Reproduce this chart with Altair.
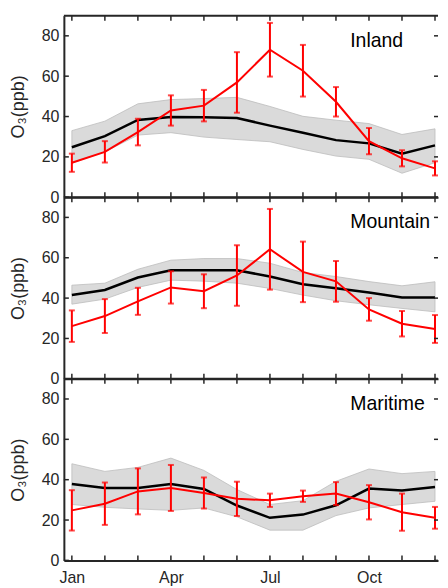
import altair as alt
import pandas as pd

# ---------------- data ----------------
months = list(range(1, 13))
month_names = ["Jan", "Feb", "Mar", "Apr", "May", "Jun", "Jul", "Aug", "Sep", "Oct", "Nov", "Dec"]
label_months = [1, 4, 7, 10]
y_ticks = [0, 20, 40, 60, 80]

inland_model = [24.8, 30.3, 38.3, 39.8, 39.7, 39.3, 35.5, 32.0, 28.3, 26.7, 21.6, 25.7]
inland_hi = [33.0, 37.7, 46.3, 48.4, 48.9, 49.5, 45.0, 40.1, 38.2, 36.5, 31.1, 33.9]
inland_lo = [17.0, 22.5, 30.8, 32.0, 29.8, 28.6, 27.5, 23.7, 20.4, 18.8, 11.9, 17.1]
inland_obs = [17.1, 22.5, 32.3, 43.0, 45.4, 56.9, 73.1, 62.7, 47.3, 27.8, 19.3, 14.3]
inland_err = [4.5, 5.3, 6.6, 7.5, 7.8, 15.0, 13.3, 12.8, 7.3, 6.5, 4.0, 3.5]

mountain_model = [41.5, 44.0, 50.2, 53.8, 53.8, 53.8, 50.7, 46.9, 44.9, 42.8, 40.3, 40.3]
mountain_hi = [46.4, 47.4, 54.3, 58.8, 59.6, 59.6, 57.3, 52.7, 50.7, 48.2, 46.1, 48.1]
mountain_lo = [37.0, 39.5, 45.3, 48.9, 48.4, 47.4, 44.8, 41.5, 38.7, 36.7, 34.9, 33.2]
mountain_obs = [26.1, 31.1, 38.4, 45.3, 43.4, 51.2, 64.2, 53.0, 48.3, 34.4, 27.3, 24.7]
mountain_err = [7.8, 8.4, 6.7, 8.0, 8.4, 15.0, 20.0, 15.0, 10.1, 5.6, 6.3, 6.9]

maritime_model = [37.9, 35.9, 35.9, 37.9, 35.4, 27.2, 21.1, 22.7, 27.3, 35.6, 34.6, 36.4]
maritime_hi = [47.9, 44.1, 46.1, 50.7, 44.6, 35.1, 27.7, 29.6, 39.2, 45.3, 43.0, 44.1]
maritime_lo = [27.7, 26.3, 25.5, 24.8, 26.0, 21.6, 15.0, 15.0, 22.2, 26.0, 27.7, 29.3]
maritime_obs = [24.8, 28.1, 34.2, 35.9, 33.4, 30.5, 29.8, 31.8, 33.1, 28.8, 23.9, 21.1]
maritime_err = [10.0, 10.5, 11.4, 11.4, 7.7, 8.5, 3.3, 2.8, 5.7, 8.5, 9.2, 5.4]

# ---------------- style ----------------
W = 375
H = 182
FRAME = "#262626"
FONT = "Liberation Sans"

xscale = alt.Scale(domain=[0.758, 12.091], nice=False, zero=False)
yscale = alt.Scale(domain=[0, 90], nice=False, zero=False)
label_expr = "[" + ",".join("'%s'" % m for m in month_names) + "][datum.value - 1]"


def panel(name, model, lo, hi, obs, err, bottom):
    df = pd.DataFrame({
        "month": months,
        "model": model,
        "lo": lo,
        "hi": hi,
        "obs": obs,
        "elo": [o - e for o, e in zip(obs, err)],
        "ehi": [o + e for o, e in zip(obs, err)],
    })
    base = alt.Chart(df)
    xax = alt.Axis(values=label_months, labelExpr=label_expr, labels=bottom, ticks=False,
                   domain=True, domainColor=FRAME, domainWidth=2, grid=False,
                   title=None, labelFont=FONT, labelFontSize=16, labelColor=FRAME,
                   labelPadding=9)
    yax = alt.Axis(values=y_ticks, ticks=False, domain=True, domainColor=FRAME,
                   domainWidth=2, grid=False, title="O₃(ppb)", titleFont=FONT,
                   titleFontSize=18, titleFontWeight="normal", titleColor=FRAME,
                   titlePadding=14, labelFont=FONT, labelFontSize=16, labelColor=FRAME,
                   labelPadding=5)

    def X(f="month:Q"):
        return alt.X(f, scale=xscale, axis=xax)

    def Y(f):
        return alt.Y(f, scale=yscale, axis=yax)

    band = base.mark_area(fill="#dadada", stroke="#bdbdbd", strokeWidth=0.8).encode(
        x=X(), y=Y("lo:Q"), y2="hi:Q")
    model_line = base.mark_line(color="black", strokeWidth=2.5).encode(x=X(), y=Y("model:Q"))
    obs_line = base.mark_line(color="#ff0000", strokeWidth=2).encode(x=X(), y=Y("obs:Q"))
    ebar = base.mark_rule(color="#ff0000", strokeWidth=2).encode(
        x=X(), y=Y("elo:Q"), y2="ehi:Q")
    cap_lo = base.mark_tick(color="#ff0000", orient="horizontal", size=6, thickness=2).encode(
        x=X(), y=Y("elo:Q"))
    cap_hi = base.mark_tick(color="#ff0000", orient="horizontal", size=6, thickness=2).encode(
        x=X(), y=Y("ehi:Q"))

    xt = alt.Chart(pd.DataFrame({"month": months}))
    top_ticks = xt.mark_rule(color=FRAME, strokeWidth=1.5).encode(
        x=X(), y=alt.value(0), y2=alt.value(5))
    bot_ticks = xt.mark_rule(color=FRAME, strokeWidth=1.5).encode(
        x=X(), y=alt.value(H - 5), y2=alt.value(H))
    yt = alt.Chart(pd.DataFrame({"v": y_ticks}))
    left_ticks = yt.mark_rule(color=FRAME, strokeWidth=1.5).encode(
        y=Y("v:Q"), x=alt.value(0), x2=alt.value(5))
    right_ticks = yt.mark_rule(color=FRAME, strokeWidth=1.5).encode(
        y=Y("v:Q"), x=alt.value(W - 4), x2=alt.value(W))
    top_line = alt.Chart(pd.DataFrame({"a": [0]})).mark_rule(color=FRAME, strokeWidth=2).encode(
        x=alt.value(0), x2=alt.value(W), y=alt.value(0))
    label = alt.Chart(pd.DataFrame({"t": [name]})).mark_text(
        align="left", baseline="alphabetic", font=FONT, fontSize=19.5, color="black").encode(
        x=alt.value(287), y=alt.value(31), text="t:N")

    return alt.layer(band, model_line, obs_line, ebar, cap_lo, cap_hi,
                     top_ticks, bot_ticks, left_ticks, right_ticks, top_line, label
                     ).properties(width=W, height=H)


p1 = panel("Inland", inland_model, inland_lo, inland_hi, inland_obs, inland_err, False)
p2 = panel("Mountain", mountain_model, mountain_lo, mountain_hi, mountain_obs, mountain_err, False)
p3 = panel("Maritime", maritime_model, maritime_lo, maritime_hi, maritime_obs, maritime_err, True)

chart = alt.vconcat(p1, p2, p3, spacing=0, bounds="flush").configure_view(stroke=None).properties(
    padding={"left": 1, "top": 6, "right": 0, "bottom": 0},
    background="white",
)

chart.save("out.html", embed_options={"renderer": "svg", "actions": False})
